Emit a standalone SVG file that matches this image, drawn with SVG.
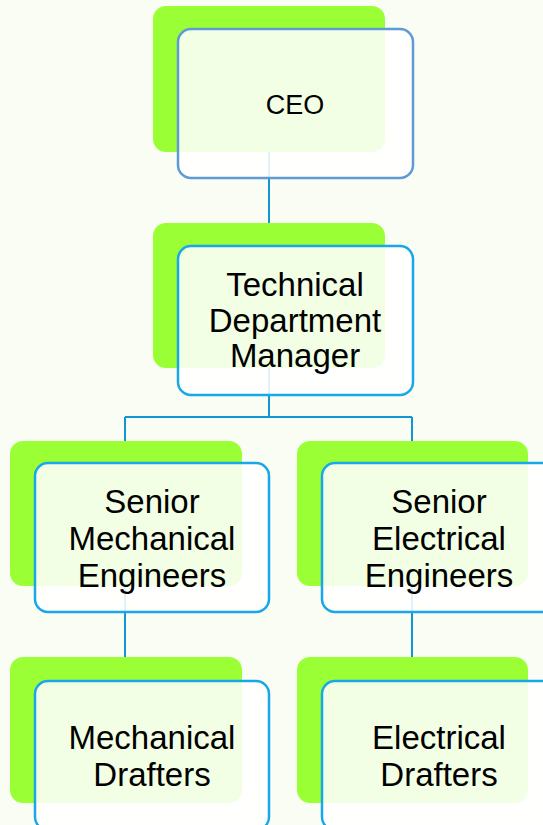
<svg xmlns="http://www.w3.org/2000/svg" width="543" height="825" viewBox="0 0 543 825">
<style>
.bg{fill:#f9fdf3}
.g{fill:#9bff36}
.w{fill:#ffffff;fill-opacity:0.87;stroke:#18a8e8;stroke-width:2.5}
.w0{stroke:#5f9ad6}
.c{fill:none;stroke:#1196d4;stroke-width:2}
text{font-family:"Liberation Sans",Arial,sans-serif;font-size:33px;fill:#000;text-anchor:middle}
</style>
<rect class="bg" width="543" height="825"/>
<g id="connectors">
<path class="c" d="M269 152V223"/>
<path class="c" d="M269 368V417M125 417H412M125 417V441M412 417V441"/>
<path class="c" d="M125 586V657"/>
<path class="c" d="M412 586V657"/>
</g>
<g id="ceo">
<rect class="g" x="153" y="6" width="232" height="146" rx="13"/>
<rect class="w w0" x="178" y="29" width="235" height="149" rx="13"/>
<text x="295" y="114" style="font-size:27px">CEO</text>
</g>
<g id="tdm">
<rect class="g" x="153" y="223" width="232" height="145" rx="13"/>
<rect class="w" x="178" y="246" width="235" height="149" rx="13"/>
<text x="295" y="296">Technical</text>
<text x="295" y="332">Department</text>
<text x="295" y="367">Manager</text>
</g>
<g id="sme">
<rect class="g" x="10" y="441" width="232" height="145" rx="13"/>
<rect class="w" x="35" y="463" width="234" height="149" rx="13"/>
<text x="152" y="513">Senior</text>
<text x="152" y="550">Mechanical</text>
<text x="152" y="587">Engineers</text>
</g>
<g id="see">
<rect class="g" x="297" y="441" width="231" height="145" rx="13"/>
<rect class="w" x="322" y="463" width="234" height="149" rx="13"/>
<text x="439" y="513">Senior</text>
<text x="439" y="550">Electrical</text>
<text x="439" y="587">Engineers</text>
</g>
<g id="md">
<rect class="g" x="10" y="657" width="232" height="146" rx="13"/>
<rect class="w" x="35" y="681" width="234" height="149" rx="13"/>
<text x="152" y="749">Mechanical</text>
<text x="152" y="786">Drafters</text>
</g>
<g id="ed">
<rect class="g" x="297" y="657" width="231" height="146" rx="13"/>
<rect class="w" x="322" y="681" width="234" height="149" rx="13"/>
<text x="439" y="749">Electrical</text>
<text x="439" y="786">Drafters</text>
</g>
</svg>
